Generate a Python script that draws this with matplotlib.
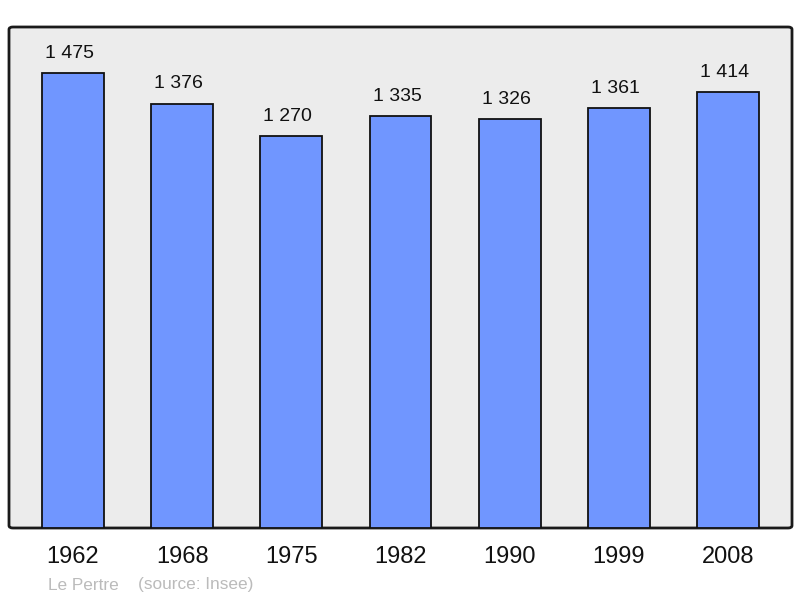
import matplotlib
matplotlib.use("Agg")
import matplotlib.pyplot as plt
from matplotlib.patches import FancyBboxPatch

years = ["1962", "1968", "1975", "1982", "1990", "1999", "2008"]
population = [1475, 1376, 1270, 1335, 1326, 1361, 1414]
value_labels = ["1 475", "1 376", "1 270", "1 335", "1 326", "1 361", "1 414"]
footer_name = "Le Pertre"
footer_source = "(source: Insee)"

plt.rcParams['font.family'] = ['Liberation Sans', 'DejaVu Sans']

fig = plt.figure(figsize=(8, 5.98), dpi=100)
ax = fig.add_axes([9/800, 1 - 528/598, 783/800, 501/598])
ax.patch.set_visible(False)

# background frame with slightly rounded corners
bg = FancyBboxPatch((0, 0), 1, 1,
                    boxstyle="round,pad=0,rounding_size=0.005",
                    transform=ax.transAxes, facecolor='#ececec',
                    edgecolor='#1a1a1a', linewidth=2, zorder=0, clip_on=False)
ax.add_patch(bg)

x = list(range(len(years)))
ax.bar(x, population, width=0.567, color='#7096ff', edgecolor='#111111',
       linewidth=1.3, zorder=2)
for xi, v, lab in zip(x, population, value_labels):
    ax.annotate(lab, (xi, v), xytext=(-2.5, 8), textcoords='offset points',
                ha='center', va='bottom', fontsize=14, color='#111111')

ax.set_xlim(-0.585, 6.585)
ax.set_ylim(0, 1624)
for s in ax.spines.values():
    s.set_visible(False)
ax.set_yticks([])
ax.set_xticks(x)
ax.set_xticklabels(years, fontsize=17, color='#111111')
ax.tick_params(axis='x', length=0, pad=13)

fig.text(48/800, 1 - 585/598, footer_name, fontsize=12.4, color='#bbbbbb', va='center')
fig.text(138/800, 1 - 585/598, footer_source, fontsize=12.4, color='#bbbbbb', va='center')

fig.savefig('out.png', dpi=100)
